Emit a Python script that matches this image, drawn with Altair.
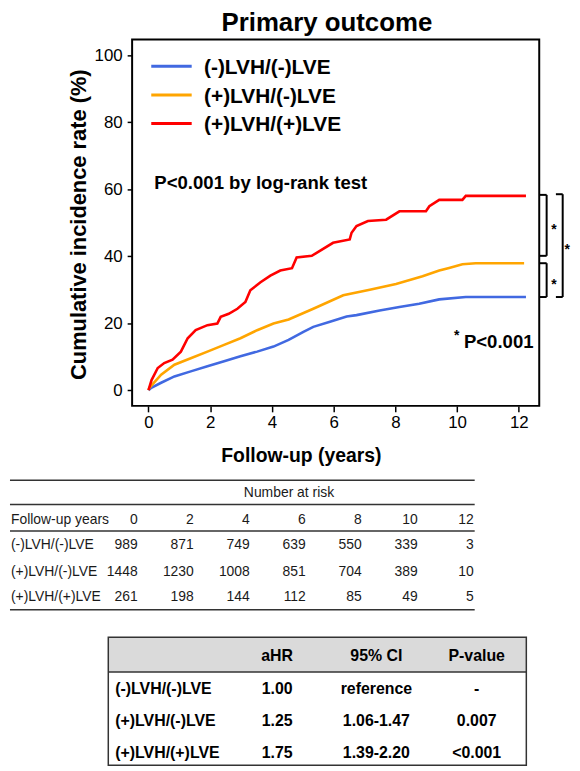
import altair as alt
import pandas as pd

FONT = "Liberation Sans"

# ---------------- data ----------------
GROUPS = ["(-)LVH/(-)LVE", "(+)LVH/(-)LVE", "(+)LVH/(+)LVE"]
COLORS = ["#4169E1", "#FFA500", "#FF0000"]

blue_t = [0, 0.09, 0.41, 0.84, 1.37, 1.91, 2.45, 2.98, 3.52, 4.05, 4.54, 5.02, 5.34, 5.88,
          6.42, 6.74, 7.49, 8.13, 8.77, 9.42, 10.28, 12.23]
blue_v = [0, 0.7, 2.2, 4.1, 5.6, 7.1, 8.6, 10.1, 11.5, 13.0, 15.0, 17.4, 18.9, 20.4,
          22.0, 22.4, 23.8, 24.8, 25.8, 27.1, 27.8, 27.8]

orange_t = [0, 0.03, 0.41, 0.84, 1.37, 1.91, 2.45, 2.98, 3.52, 4.05, 4.54, 5.34, 6.31,
            7.17, 8.02, 8.88, 9.42, 9.74, 10.17, 10.6, 12.17]
orange_v = [0, 0.7, 4.6, 7.6, 9.5, 11.5, 13.5, 15.5, 17.9, 19.9, 21.1, 24.3, 28.3,
            30.0, 31.7, 34.0, 35.7, 36.5, 37.6, 37.9, 37.9]

red_t = [0, 0.1, 0.3, 0.51, 0.78, 1.05, 1.27, 1.53, 1.91, 2.23, 2.34, 2.6, 2.88, 3.14,
         3.3, 3.63, 3.95, 4.27, 4.65, 4.8, 5.29, 5.98, 6.52, 6.58, 6.74, 7.11, 7.7,
         8.13, 8.99, 9.1, 9.42, 10.17, 10.28, 12.23]
red_v = [0, 3.0, 6.6, 8.1, 9.1, 11.5, 15.5, 17.9, 19.4, 19.9, 21.9, 22.8, 24.3, 26.3,
         29.8, 32.2, 34.2, 35.7, 36.4, 39.6, 40.1, 44.0, 45.0, 47.0, 49.0, 50.5, 50.9,
         53.4, 53.4, 54.9, 56.8, 56.8, 58.0, 58.0]

risk_years = [0, 2, 4, 6, 8, 10, 12]
risk_counts = [
    [989, 871, 749, 639, 550, 339, 3],
    [1448, 1230, 1008, 851, 704, 389, 10],
    [261, 198, 144, 112, 85, 49, 5],
]

hr_header = ["aHR", "95% CI", "P-value"]
ahr = ["1.00", "1.25", "1.75"]
ci = ["reference", "1.06-1.47", "1.39-2.20"]
pval = ["-", "0.007", "<0.001"]

# brackets: (top, bottom) levels in % and whether it is the outer one
bracket_top = [58.3, 37.9, 58.5]
bracket_bot = [40.1, 27.8, 27.8]
bracket_outer = [False, False, True]

# ---------------- layout constants ----------------
W, H = 410, 369
X_DOM = [-0.53, 12.66]
Y_DOM = [-4.7, 104.7]

x_scale = alt.Scale(domain=X_DOM, nice=False, zero=False)
y_scale = alt.Scale(domain=Y_DOM, nice=False, zero=False)

x_axis = alt.Axis(values=risk_years, format="d", grid=False, domain=False,
                  tickColor="black", tickWidth=1.5, tickSize=6,
                  labelFontSize=17, labelColor="black", labelFont=FONT, labelPadding=3,
                  title="Follow-up (years)", titleFontSize=19.5, titleFontWeight="bold",
                  titleColor="black", titleFont=FONT, titleX=170, titleY=56,
                  titleBaseline="alphabetic")
y_axis = alt.Axis(values=[0, 20, 40, 60, 80, 100], grid=False, domain=False,
                  tickColor="black", tickWidth=1.5, tickSize=5,
                  labelFontSize=17, labelColor="black", labelFont=FONT, labelPadding=5,
                  title="Cumulative incidence rate (%)", titleFontSize=22,
                  titleFontWeight="bold", titleColor="black", titleFont=FONT,
                  titlePadding=4, titleY=186)

X = lambda f: alt.X(f, scale=x_scale, axis=x_axis)
Y = lambda f: alt.Y(f, scale=y_scale, axis=y_axis)
color = alt.Color("group:N", scale=alt.Scale(domain=GROUPS, range=COLORS), legend=None)

km_rows = []
for g, ts, vs in zip(GROUPS, [blue_t, orange_t, red_t], [blue_v, orange_v, red_v]):
    for t, v in zip(ts, vs):
        km_rows.append({"group": g, "t": t, "v": v})
km_df = pd.DataFrame(km_rows)

lines = alt.Chart(km_df).mark_line(strokeWidth=2.6).encode(
    x=X("t:Q"), y=Y("v:Q"), color=color)

# chart title, placed above the frame
TITLE_T, TITLE_V = 5.78, 107.1
title_txt = alt.Chart(pd.DataFrame({"t": [TITLE_T], "v": [TITLE_V], "s": ["Primary outcome"]})).mark_text(
    align="center", baseline="alphabetic", fontSize=26, fontWeight="bold", font=FONT,
    color="black", clip=False).encode(x=X("t:Q"), y=Y("v:Q"), text="s:N")

# legend (drawn manually)
LEG_T0, LEG_T1, LEG_TT, LEG_V0, LEG_STEP = 0.09, 1.4, 1.8, 96.7, 8.55
leg_df = pd.DataFrame({
    "group": GROUPS,
    "t0": [LEG_T0] * 3, "t1": [LEG_T1] * 3, "tt": [LEG_TT] * 3,
    "v": [LEG_V0 - i * LEG_STEP for i in range(3)],
})
leg_lines = alt.Chart(leg_df).mark_rule(strokeWidth=3).encode(
    x=X("t0:Q"), x2="t1:Q", y=Y("v:Q"), color=color)
leg_text = alt.Chart(leg_df).mark_text(
    align="left", baseline="alphabetic", dy=8, fontSize=21, fontWeight="bold",
    font=FONT, color="black").encode(x=X("tt:Q"), y=Y("v:Q"), text="group:N")

# annotations
ann_df = pd.DataFrame({"t": [0.19, 10.22], "v": [60.1, 12.5],
                       "txt": ["P<0.001 by log-rank test", "P<0.001"]})
ann = alt.Chart(ann_df).mark_text(
    align="left", baseline="alphabetic", fontSize=18.7, fontWeight="bold",
    font=FONT, color="black").encode(x=X("t:Q"), y=Y("v:Q"), text="txt:N")

star_note = alt.Chart(pd.DataFrame({"t": [9.99], "v": [17.4], "s": ["*"]})).mark_text(
    align="center", baseline="alphabetic", dy=8, fontSize=14, fontWeight="bold",
    font=FONT, color="black").encode(x=X("t:Q"), y=Y("v:Q"), text="s:N")

# brackets
FRAME_T = 12.68
br_df = pd.DataFrame({
    "top": bracket_top, "bot": bracket_bot,
    "xl": [13.42 if o else 12.9 for o in bracket_outer],
    "xt": [13.2 if o else FRAME_T for o in bracket_outer],
    "xs": [13.57 if o else 13.14 for o in bracket_outer],
})
br_df["mid"] = (br_df["top"] + br_df["bot"]) / 2
br_v = alt.Chart(br_df).mark_rule(strokeWidth=2, color="black", clip=False).encode(
    x=X("xl:Q"), y=Y("top:Q"), y2="bot:Q")
br_t = alt.Chart(br_df).mark_rule(strokeWidth=2, color="black", clip=False).encode(
    x=X("xt:Q"), x2="xl:Q", y=Y("top:Q"))
br_b = alt.Chart(br_df).mark_rule(strokeWidth=2, color="black", clip=False).encode(
    x=X("xt:Q"), x2="xl:Q", y=Y("bot:Q"))
br_s = alt.Chart(br_df).mark_text(
    align="center", baseline="alphabetic", dy=8.5, fontSize=14, fontWeight="bold",
    font=FONT, color="black", clip=False).encode(
    x=X("xs:Q"), y=Y("mid:Q"), text=alt.value("*"))

km = alt.layer(lines, title_txt, leg_lines, leg_text, ann, star_note,
               br_v, br_t, br_b, br_s).properties(
    width=W, height=H,
    view=alt.ViewBackground(stroke="black", strokeWidth=2),
)

# ---------------- number-at-risk table ----------------
RT_H = 233
RT_X0, RT_X1 = -123, 345
RT_RULES = [75, 99.3, 126, 205.3]
RT_TITLE_X, RT_TITLE_Y, RT_HEAD_Y = 158, 87.7, 115.3
RT_ROW_Y = [140.5, 167.7, 192.7]
RT_LABEL_X = -122
RT_COL0, RT_COLSTEP = 5.7, 56.4

tx = alt.Scale(domain=[0, W], nice=False, zero=False)
rty = alt.Scale(domain=[RT_H, 0], nice=False, zero=False)

def TX(f, s=tx):
    return alt.X(f, scale=s, axis=None)

def TY(f, s):
    return alt.Y(f, scale=s, axis=None)

rt_rules = pd.DataFrame({"x0": RT_X0, "x1": RT_X1, "y": RT_RULES})
rt_cells = []
rt_cells.append({"x": RT_TITLE_X, "y": RT_TITLE_Y, "txt": "Number at risk", "a": "center"})
rt_cells.append({"x": RT_LABEL_X, "y": RT_HEAD_Y, "txt": "Follow-up years", "a": "left"})
for i, yr in enumerate(risk_years):
    rt_cells.append({"x": RT_COL0 + i * RT_COLSTEP, "y": RT_HEAD_Y, "txt": str(yr), "a": "right"})
for r, g in enumerate(GROUPS):
    rt_cells.append({"x": RT_LABEL_X, "y": RT_ROW_Y[r], "txt": g, "a": "left"})
    for i, n in enumerate(risk_counts[r]):
        rt_cells.append({"x": RT_COL0 + i * RT_COLSTEP, "y": RT_ROW_Y[r], "txt": str(n), "a": "right"})
rt_df = pd.DataFrame(rt_cells)

rt_rule_layer = alt.Chart(rt_rules).mark_rule(strokeWidth=1.5, color="#333333", clip=False).encode(
    x=TX("x0:Q"), x2="x1:Q", y=TY("y:Q", rty))
rt_layers = [rt_rule_layer]
for a in ["left", "center", "right"]:
    rt_layers.append(
        alt.Chart(rt_df[rt_df["a"] == a]).mark_text(
            align=a, baseline="middle", fontSize=14, font=FONT, color="#1a1a1a", clip=False
        ).encode(x=TX("x:Q"), y=TY("y:Q", rty), text="txt:N"))
risk = alt.layer(*rt_layers).properties(width=W, height=RT_H)

# ---------------- hazard ratio table ----------------
HR_H = 129
HR_X0, HR_X1 = -24, 397
HR_HEAD_H = 35
HR_HEAD_Y = 18.5
HR_ROW_Y = [52, 84.5, 117]
HR_LABEL_X = -17
HR_COLS = [146, 246, 347]

hry = alt.Scale(domain=[HR_H, 0], nice=False, zero=False)

band = alt.Chart(pd.DataFrame({"x0": [HR_X0], "x1": [HR_X1], "y0": [0], "y1": [HR_HEAD_H]})).mark_rect(
    color="#dadada", clip=False).encode(x=TX("x0:Q"), x2="x1:Q", y=TY("y0:Q", hry), y2="y1:Q")
box = alt.Chart(pd.DataFrame({"x0": [HR_X0], "x1": [HR_X1], "y0": [0], "y1": [HR_H]})).mark_rect(
    fill="transparent", stroke="#333333", strokeWidth=1.5, clip=False).encode(
    x=TX("x0:Q"), x2="x1:Q", y=TY("y0:Q", hry), y2="y1:Q")
head_line = alt.Chart(pd.DataFrame({"x0": [HR_X0], "x1": [HR_X1], "y": [HR_HEAD_H]})).mark_rule(
    strokeWidth=1.5, color="#333333", clip=False).encode(x=TX("x0:Q"), x2="x1:Q", y=TY("y:Q", hry))

hr_cells = []
for c, h in enumerate(hr_header):
    hr_cells.append({"x": HR_COLS[c], "y": HR_HEAD_Y, "txt": h, "a": "center"})
for r, g in enumerate(GROUPS):
    hr_cells.append({"x": HR_LABEL_X, "y": HR_ROW_Y[r], "txt": g, "a": "left"})
    for c, val in enumerate([ahr[r], ci[r], pval[r]]):
        hr_cells.append({"x": HR_COLS[c], "y": HR_ROW_Y[r], "txt": val, "a": "center"})
hr_df = pd.DataFrame(hr_cells)
hr_layers = [band, box, head_line]
for a in ["left", "center"]:
    hr_layers.append(
        alt.Chart(hr_df[hr_df["a"] == a]).mark_text(
            align=a, baseline="middle", fontSize=16, fontWeight="bold", font=FONT,
            color="black", clip=False
        ).encode(x=TX("x:Q"), y=TY("y:Q", hry), text="txt:N"))
hr = alt.layer(*hr_layers).properties(width=W, height=HR_H)

chart = alt.vconcat(km, risk, hr, spacing=0, bounds="flush").properties(
    padding={"left": 0, "top": -2, "right": 0, "bottom": 0}
).configure(font=FONT).configure_view(stroke="transparent")

chart.save("out.html", embed_options={"renderer": "svg", "actions": False})
